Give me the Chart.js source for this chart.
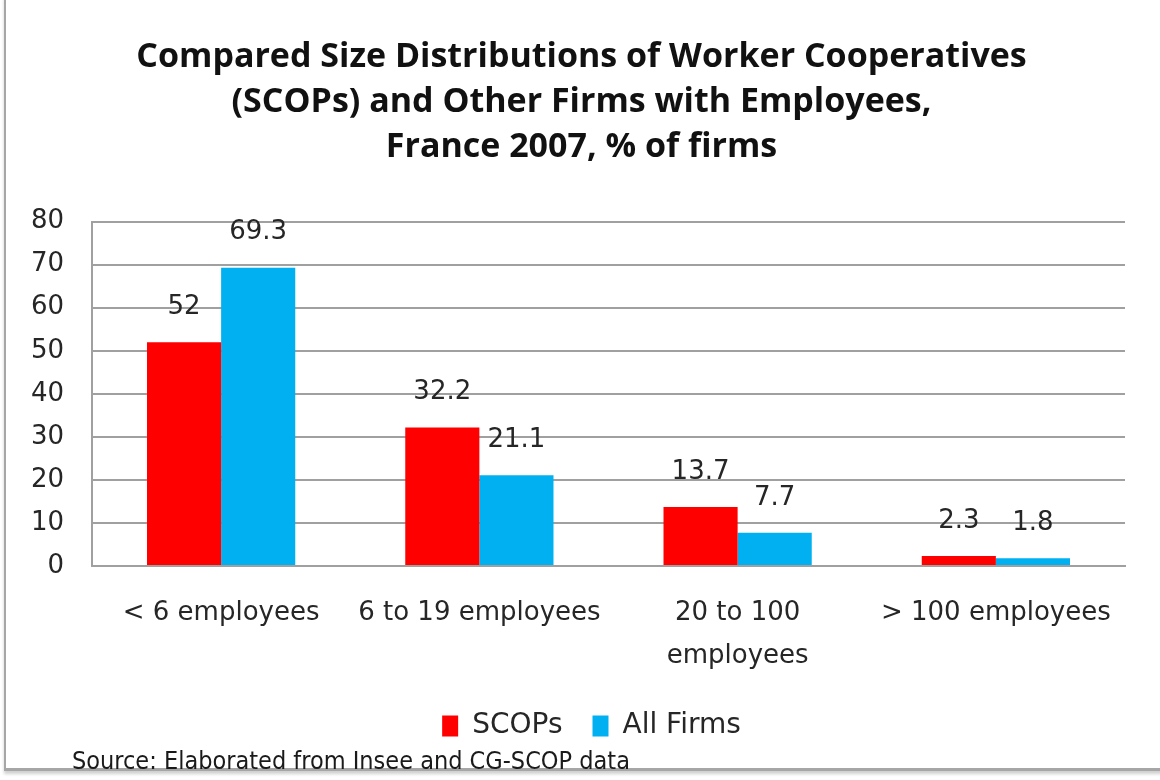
<!DOCTYPE html>
<html>
<head>
<meta charset="utf-8">
<script src="https://cdn.jsdelivr.net/npm/chart.js@4.4.0/dist/chart.umd.min.js"></script>
<style>
  html, body { margin: 0; padding: 0; background: #fff; }
  #wrap { position: relative; width: 1160px; height: 780px; }
  #frame { position: absolute; left: 4px; top: -4px; width: 1160px; height: 772px;
           border-left: 2px solid #a6a6a6; border-bottom: 3px solid #a6a6a6;
           box-shadow: 0 3px 3px #d0d0d0; }
  canvas { position: absolute; left: 0; top: 0; }
</style>
</head>
<body>
<div id="wrap">
  <div id="frame"></div>
  <canvas id="chart" width="1160" height="780"></canvas>
</div>
<script>
var categories = ['< 6 employees', '6 to 19 employees', ['20 to 100', 'employees'], '> 100 employees'];
var scopValues = [52, 32.2, 13.7, 2.3];
var allFirmsValues = [69.3, 21.1, 7.7, 1.8];
var yTicks = [0, 10, 20, 30, 40, 50, 60, 70, 80];
var titleLines = ['Compared Size Distributions of Worker Cooperatives',
                  '(SCOPs) and Other Firms with Employees,',
                  'France 2007, % of firms'];
var sourceNote = 'Source: Elaborated from Insee and CG-SCOP data';

var labelFont = '26px "DejaVu Sans"';

// nudge title and legend a little right, like the original
var nudge = {
  id: 'nudge',
  afterLayout(chart) {
    chart.titleBlock.left += 9; chart.titleBlock.right += 9;
    chart.legend.left += 19; chart.legend.right += 19;
  }
};

// value labels above bars + source note
var extras = {
  id: 'extras',
  afterDatasetsDraw(chart) {
    var ctx = chart.ctx;
    ctx.save();
    ctx.font = labelFont;
    ctx.fillStyle = '#262626';
    ctx.textAlign = 'center';
    ctx.textBaseline = 'middle';
    chart.data.datasets.forEach(function (ds, i) {
      chart.getDatasetMeta(i).data.forEach(function (bar, j) {
        ctx.fillText(String(ds.data[j]), bar.x, bar.y - 35);
      });
    });
    ctx.font = '25px "DejaVu Sans Condensed"';
    ctx.textAlign = 'left';
    ctx.fillStyle = '#1a1a1a';
    ctx.fillText(sourceNote, 72, 762);
    ctx.restore();
  }
};

new Chart(document.getElementById('chart'), {
  type: 'bar',
  data: {
    labels: categories,
    datasets: [
      { label: 'SCOPs', data: scopValues, backgroundColor: '#ff0000' },
      { label: 'All Firms', data: allFirmsValues, backgroundColor: '#00b0f0' }
    ]
  },
  options: {
    responsive: false,
    animation: false,
    layout: { padding: { left: 20, right: 35, bottom: 30 } },
    datasets: { bar: { barPercentage: 1, categoryPercentage: 0.574 } },
    scales: {
      x: {
        grid: { display: false, drawTicks: false },
        border: { color: '#a0a0a0', width: 2 },
        ticks: { color: '#262626', font: { family: 'DejaVu Sans', size: 26, lineHeight: 1.65 }, padding: 26, maxRotation: 0, autoSkip: false },
        afterFit(scale) { scale.height = 116; }
      },
      y: {
        min: 0, max: 80,
        afterBuildTicks(scale) { scale.ticks = yTicks.map(function (v) { return { value: v }; }); },
        grid: { color: '#a0a0a0', lineWidth: 2, drawTicks: false },
        border: { color: '#a0a0a0', width: 2 },
        ticks: { color: '#262626', font: { family: 'DejaVu Sans', size: 26 }, padding: 28 },
        afterFit(scale) { scale.width = 72; }
      }
    },
    plugins: {
      title: {
        display: true,
        text: titleLines,
        color: '#111',
        font: { family: 'Open Sans', size: 34, weight: 'bold', lineHeight: 1.32 },
        padding: { top: 35, bottom: 52 }
      },
      legend: {
        position: 'bottom',
        labels: { color: '#262626', font: { family: 'DejaVu Sans', size: 28 }, boxWidth: 16, boxHeight: 21, padding: 30 }
      },
      tooltip: { enabled: false }
    }
  },
  plugins: [nudge, extras]
});
</script>
</body>
</html>
